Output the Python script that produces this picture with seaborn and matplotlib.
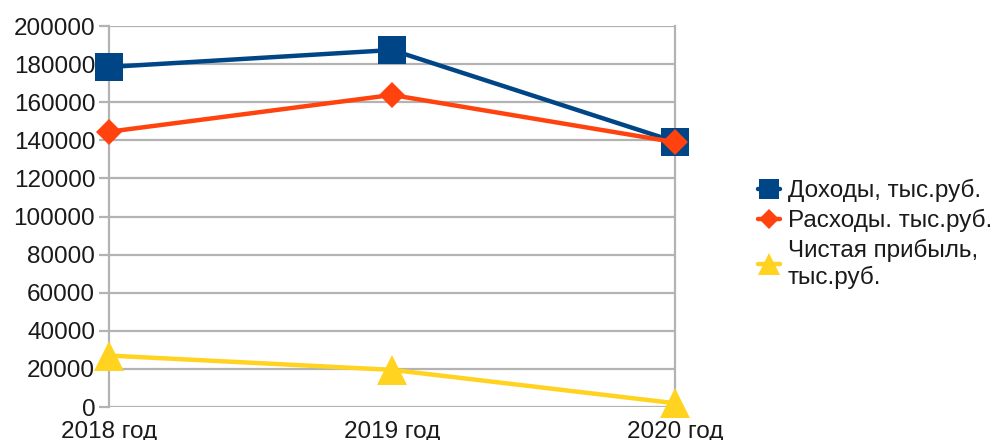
import matplotlib
matplotlib.use("Agg")
import matplotlib.pyplot as plt
import seaborn as sns
import pandas as pd

years = ["2018 год", "2019 год", "2020 год"]
income = [178500, 187400, 139300]
expenses = [144500, 163800, 139000]
profit = [27000, 19500, 2000]

series_names = ["Доходы, тыс.руб.", "Расходы. тыс.руб.", "Чистая прибыль,\nтыс.руб."]
colors = ["#004586", "#ff420e", "#ffd320"]
markers = ["s", "D", "^"]
marker_sizes = [20, 13, 21]

y_ticks = list(range(0, 200001, 20000))

sns.set_theme(style="white")
plt.rcParams["font.family"] = ["Liberation Sans", "DejaVu Sans"]

fig = plt.figure(figsize=(10.05, 4.4), dpi=100)
ax = fig.add_axes([0.1085, 0.075, 0.5631, 0.8659])

x_pos = list(range(len(years)))
for name, vals, col, mk, ms in zip(series_names, [income, expenses, profit],
                                   colors, markers, marker_sizes):
    df = pd.DataFrame({"x": x_pos, "y": vals})
    sns.lineplot(data=df, x="x", y="y", ax=ax, color=col, linewidth=3.2,
                 marker=mk, markersize=ms, markeredgewidth=0,
                 label=name, clip_on=False, zorder=3)

ax.set_xlim(0, 2)
ax.set_ylim(0, 200000)
ax.set_yticks(y_ticks)
ax.set_yticklabels([str(v) for v in y_ticks])
ax.set_xticks(x_pos)
ax.set_xticklabels(years)
ax.set_xlabel("")
ax.set_ylabel("")

grid_col = "#b3b3b3"
ax.yaxis.grid(True, color=grid_col, linewidth=1.6)
ax.xaxis.grid(False)
for side in ["top", "bottom"]:
    ax.spines[side].set_visible(False)
for side in ["left", "right"]:
    ax.spines[side].set_visible(True)
    ax.spines[side].set_color(grid_col)
    ax.spines[side].set_linewidth(1.6)

ax.tick_params(axis="y", which="major", length=7, width=1.6, color=grid_col,
               pad=3, labelsize=17.5, labelcolor="#1a1a1a", left=True)
ax.tick_params(axis="x", which="major", length=0, pad=10, labelsize=17.5,
               labelcolor="#1a1a1a")

leg = ax.legend(loc="center left", bbox_to_anchor=(0.745, 0.468),
                bbox_transform=fig.transFigure, frameon=False, fontsize=17.5,
                handlelength=0.9, handletextpad=0.3, labelspacing=0.28,
                markerscale=0.75, borderaxespad=0)
for t in leg.get_texts():
    t.set_color("#1a1a1a")

fig.savefig("out.png", dpi=100)
